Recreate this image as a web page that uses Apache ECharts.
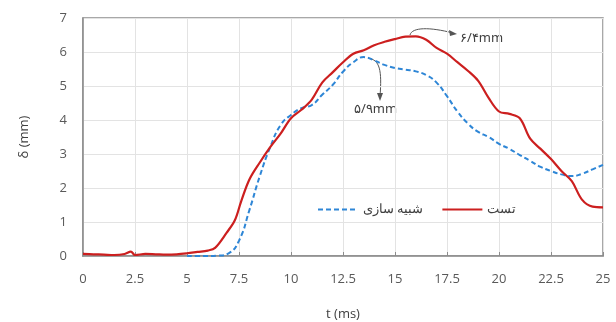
<!DOCTYPE html>
<html>
<head>
<meta charset="utf-8">
<script src="https://cdn.jsdelivr.net/npm/echarts@6/dist/echarts.min.js"></script>
<style>
  html, body { margin: 0; padding: 0; background: #fff; }
  #main { width: 616px; height: 322px; }
</style>
</head>
<body>
<div id="main"></div>
<script>
// test (تست)
var tTest = [0, 0.5, 1, 1.5, 2, 2.3, 2.5, 3, 3.5, 4, 4.5, 5, 5.5, 6, 6.35, 6.9, 7.3, 7.6, 8, 8.5, 9, 9.5, 10, 10.5, 11, 11.5, 12, 12.5, 13, 13.5, 14, 14.5, 15, 15.5, 16, 16.5, 17, 17.5, 18, 18.5, 19, 19.5, 20, 20.5, 21, 21.5, 22, 22.5, 23, 23.5, 24, 24.5, 25];
var vTest = [0.06, 0.05, 0.04, 0.03, 0.06, 0.13, 0.03, 0.06, 0.05, 0.04, 0.05, 0.08, 0.12, 0.16, 0.24, 0.68, 1.05, 1.6, 2.25, 2.75, 3.2, 3.6, 4.05, 4.3, 4.6, 5.1, 5.4, 5.7, 5.95, 6.05, 6.2, 6.3, 6.38, 6.45, 6.46, 6.36, 6.12, 5.95, 5.7, 5.45, 5.15, 4.65, 4.25, 4.18, 4.05, 3.45, 3.15, 2.85, 2.5, 2.2, 1.65, 1.45, 1.43];
// simulation (شبیه سازی)
var tSim = [5, 5.5, 6, 6.5, 7, 7.5, 8, 8.5, 9, 9.5, 10, 10.5, 11, 11.5, 12, 12.5, 13, 13.5, 14, 14.5, 15, 15.5, 16, 16.5, 17, 17.5, 18, 18.5, 19, 19.5, 20, 20.5, 21, 21.5, 22, 22.5, 23, 23.5, 24, 24.5, 25];
var vSim = [0, 0, 0, 0.01, 0.08, 0.45, 1.35, 2.35, 3.2, 3.85, 4.15, 4.35, 4.44, 4.74, 5.03, 5.42, 5.7, 5.85, 5.75, 5.62, 5.53, 5.48, 5.43, 5.32, 5.1, 4.7, 4.25, 3.9, 3.65, 3.5, 3.3, 3.15, 2.97, 2.8, 2.62, 2.5, 2.4, 2.35, 2.42, 2.55, 2.68];

function pairs(t, v) {
  return t.map(function (x, i) { return [x, v[i]]; });
}

var chart = echarts.init(document.getElementById('main'));
var labelFont = { color: '#595959', fontSize: 13, fontFamily: 'Open Sans' };

chart.setOption({
  animation: false,
  grid: {
    left: 83, right: 13, top: 18, bottom: 66,
    outerBoundsMode: 'none', containLabel: false,
    show: true, borderColor: '#8c8c8c', borderWidth: 1.5
  },
  legend: {
    left: 312, top: 198,
    itemWidth: 40, itemHeight: 10, itemGap: 18,
    itemStyle: { opacity: 0 },
    textStyle: { color: '#404040', fontSize: 13, fontFamily: 'Noto Sans' },
    data: ['شبیه سازی', 'تست']
  },
  xAxis: {
    type: 'value', min: 0, max: 25, interval: 2.5,
    name: 't (ms)', nameLocation: 'middle', nameGap: 52,
    nameTextStyle: { color: '#404040', fontSize: 13, fontFamily: 'Open Sans' },
    axisLine: { lineStyle: { color: '#8c8c8c', width: 1.5 } },
    axisTick: { inside: true, length: 4, lineStyle: { color: '#8c8c8c' } },
    axisLabel: Object.assign({ margin: 17 }, labelFont),
    splitLine: { lineStyle: { color: '#e3e3e3' } }
  },
  yAxis: {
    type: 'value', min: 0, max: 7, interval: 1,
    name: 'δ (mm)', nameLocation: 'middle', nameGap: 52,
    nameTextStyle: { color: '#404040', fontSize: 13, fontFamily: 'Open Sans' },
    axisLine: { show: true, lineStyle: { color: '#8c8c8c', width: 1.5 } },
    axisTick: { show: false },
    axisLabel: Object.assign({ margin: 16 }, labelFont),
    splitLine: { lineStyle: { color: '#e3e3e3' } }
  },
  series: [
    {
      name: 'شبیه سازی', type: 'line', smooth: true, symbol: 'none',
      lineStyle: { color: '#2e86d6', width: 2, type: [5, 3] },
      itemStyle: { color: '#2e86d6' },
      data: pairs(tSim, vSim), z: 3
    },
    {
      name: 'تست', type: 'line', smooth: 0.35, symbol: 'none',
      lineStyle: { color: '#cc1f1f', width: 2.2 },
      itemStyle: { color: '#cc1f1f' },
      data: pairs(tTest, vTest), z: 4
    }
  ],
  graphic: [
    // annotation 6.4 mm
    {
      type: 'bezierCurve',
      shape: { x1: 410, y1: 35, cpx1: 412, cpy1: 27, x2: 453, y2: 33, cpx2: 430, cpy2: 27 },
      style: { stroke: '#555', lineWidth: 1, fill: null }
    },
    {
      type: 'polygon',
      shape: { points: [[457, 34], [449, 30], [450, 36]] },
      style: { fill: '#555' }
    },
    {
      type: 'text', left: 460, top: 32,
      style: { text: '۶/۴mm', fill: '#404040', fontSize: 13, fontFamily: 'Noto Sans' }
    },
    // annotation 5.9 mm
    {
      type: 'bezierCurve',
      shape: { x1: 368, y1: 58, cpx1: 380, cpy1: 60, x2: 380, y2: 97, cpx2: 382, cpy2: 70 },
      style: { stroke: '#555', lineWidth: 1, fill: null }
    },
    {
      type: 'polygon',
      shape: { points: [[380, 101], [377, 93], [383, 93]] },
      style: { fill: '#555' }
    },
    {
      type: 'text', left: 354, top: 103,
      style: { text: '۵/۹mm', fill: '#404040', fontSize: 13, fontFamily: 'Noto Sans' }
    }
  ]
});
</script>
</body>
</html>
